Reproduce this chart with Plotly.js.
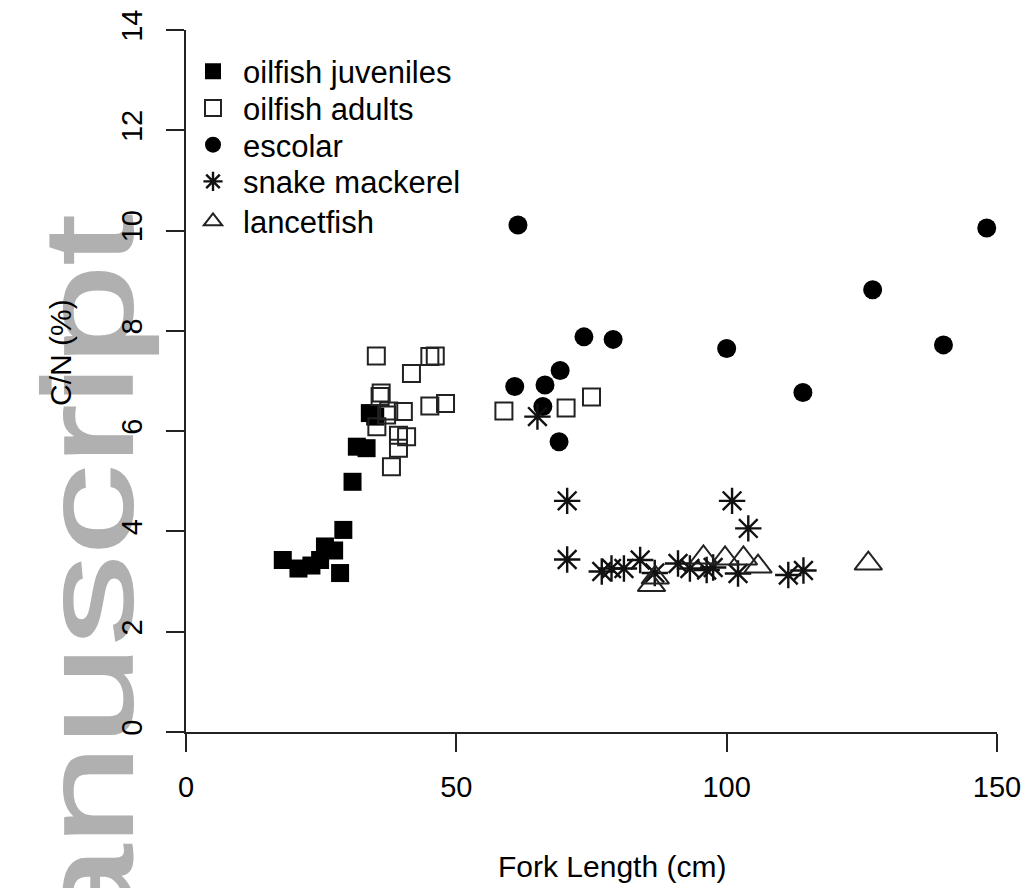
<!DOCTYPE html>
<html>
<head>
<meta charset="utf-8">
<script src="https://cdn.plot.ly/plotly-3.0.1.min.js"></script>
<style>
  html, body { margin: 0; padding: 0; background: #ffffff; }
  #wrap { position: relative; width: 1029px; height: 888px; overflow: hidden; background: #ffffff; }
  #wm { position: absolute; left: 0; top: 0; z-index: 0; }
  #plot { position: absolute; left: 0; top: 0; width: 1029px; height: 888px; z-index: 1; }
</style>
</head>
<body>
<div id="wrap">
  <svg id="wm" width="1029" height="888" xmlns="http://www.w3.org/2000/svg">
    <text x="-215" y="188" transform="rotate(-90) scale(1,0.7)" text-anchor="end"
          font-family="Liberation Sans, Arial, sans-serif" font-size="180" fill="#b0b0b0"
          stroke="#b0b0b0" stroke-width="3">manuscript</text>
  </svg>
  <div id="plot"></div>
</div>
<script>
// ---- data (Fork Length cm, C/N) ----
const juvenilesX = [17.9, 20.8, 23.2, 24.8, 25.7, 27.4, 28.5, 29.1, 30.8, 31.6, 33.4, 34.0, 35.0];
const juvenilesY = [3.43, 3.26, 3.32, 3.43, 3.70, 3.62, 3.17, 4.03, 4.99, 5.69, 5.66, 6.36, 6.29];

const adultsX = [35.2, 41.7, 45.1, 46.1, 35.9, 36.1, 40.2, 45.1, 48.0, 37.1, 35.3, 39.3, 40.8, 39.3, 38.0, 37.5, 58.8, 70.3, 75.0];
const adultsY = [7.50, 7.15, 7.49, 7.50, 6.69, 6.76, 6.39, 6.50, 6.55, 6.32, 6.09, 5.92, 5.89, 5.66, 5.29, 6.40, 6.40, 6.46, 6.68];

const escolarX = [61.4, 148.1, 127.0, 140.1, 100.0, 114.1, 73.6, 79.0, 69.2, 60.8, 66.4, 66.0, 69.0];
const escolarY = [10.11, 10.05, 8.82, 7.72, 7.65, 6.77, 7.88, 7.83, 7.21, 6.89, 6.92, 6.49, 5.79];

const snakeX = [65.0, 70.5, 101.0, 104.0, 70.5, 76.9, 78.7, 81.0, 84.0, 86.7, 91.0, 93.2, 96.3, 97.5, 102.1, 111.4, 114.2];
const snakeY = [6.29, 4.61, 4.61, 4.06, 3.44, 3.20, 3.26, 3.26, 3.43, 3.17, 3.36, 3.26, 3.23, 3.28, 3.16, 3.13, 3.22];

const lancetX = [86.1, 86.8, 95.7, 99.7, 103.1, 105.8, 126.2];
const lancetY = [2.93, 3.08, 3.48, 3.46, 3.46, 3.30, 3.36];

const seriesNames = ["oilfish juveniles", "oilfish adults", "escolar", "snake mackerel", "lancetfish"];
const xTicks = [0, 50, 100, 150];
const yTicks = [0, 2, 4, 6, 8, 10, 12, 14];
const xTitle = "Fork Length (cm)";
const yTitle = "C/N (%)";

// ---- traces ----
const FONT = "Liberation Sans, Arial, Helvetica, sans-serif";
const legendIds = ["legend", "legend2", "legend3", "legend4", "legend5"];
const traces = [
  { x: juvenilesX, y: juvenilesY, name: seriesNames[0], type: "scatter", mode: "markers", legend: legendIds[0],
    marker: { symbol: "square", size: 18, color: "#000000", line: { width: 0 } } },
  { x: adultsX, y: adultsY, name: seriesNames[1], type: "scatter", mode: "markers", legend: legendIds[1],
    marker: { symbol: "square-open", size: 17, color: "#222222", line: { width: 2, color: "#222222" } } },
  { x: escolarX, y: escolarY, name: seriesNames[2], type: "scatter", mode: "markers", legend: legendIds[2],
    marker: { symbol: "circle", size: 19, color: "#000000", line: { width: 0 } } },
  { x: snakeX, y: snakeY, name: seriesNames[3], type: "scatter", mode: "markers", legend: legendIds[3],
    marker: { symbol: "asterisk-open", size: 22, color: "#111111", line: { width: 2.4, color: "#111111" } } },
  { x: lancetX, y: lancetY, name: seriesNames[4], type: "scatter", mode: "markers", legend: legendIds[4],
    marker: { symbol: "triangle-up-open", size: 24, color: "#222222", line: { width: 2, color: "#222222" } } }
];

const W = 1029, H = 888;
const L = 186, R = 32, T = 30, B = 156;
const pw = W - L - R, ph = H - T - B;

// legend row centres (pixels from top) and left edge
const legendRowsPx = [71.7, 108.3, 145, 181.7, 221.7];
const legendLeftPx = 183;

const layout = {
  width: W, height: H,
  margin: { l: L, r: R, t: T, b: B, pad: 0 },
  paper_bgcolor: "rgba(0,0,0,0)",
  plot_bgcolor: "rgba(0,0,0,0)",
  font: { family: FONT, size: 30, color: "#000000" },
  showlegend: true,
  xaxis: {
    range: [0, 150], autorange: false,
    tickmode: "array", tickvals: xTicks, ticktext: xTicks.map(String),
    showline: true, linecolor: "#222222", linewidth: 2,
    ticks: "outside", ticklen: 18, tickwidth: 2, tickcolor: "#222222",
    showgrid: false, zeroline: false,
    tickfont: { family: FONT, size: 29, color: "#000000" },
    ticklabelstandoff: 10
  },
  yaxis: {
    range: [0, 14], autorange: false,
    tickmode: "array", tickvals: yTicks, ticktext: yTicks.map(String),
    showline: true, linecolor: "#222222", linewidth: 2,
    ticks: "outside", ticklen: 18, tickwidth: 2, tickcolor: "#222222",
    showgrid: false, zeroline: false, tickangle: -90,
    tickfont: { family: FONT, size: 29, color: "#000000" },
    ticklabelstandoff: 12
  },
  annotations: [
    { text: xTitle, xref: "paper", yref: "paper", x: (612 - L) / pw, y: (H - B - 866) / ph,
      xanchor: "center", yanchor: "middle", showarrow: false,
      font: { family: FONT, size: 30, color: "#000000" } },
    { text: yTitle, xref: "paper", yref: "paper", x: (60 - L) / pw, y: (H - B - 353) / ph,
      xanchor: "center", yanchor: "middle", showarrow: false, textangle: -90,
      font: { family: FONT, size: 30, color: "#000000" } }
  ]
};

legendIds.forEach(function (id, i) {
  layout[id] = {
    x: (legendLeftPx - L) / pw, y: (H - B - legendRowsPx[i]) / ph,
    xanchor: "left", yanchor: "middle",
    bgcolor: "rgba(0,0,0,0)", borderwidth: 0,
    font: { family: FONT, size: 31, color: "#000000" },
    itemwidth: 50, tracegroupgap: 0
  };
});

Plotly.newPlot("plot", traces, layout, { staticPlot: true, displayModeBar: false });
</script>
</body>
</html>
